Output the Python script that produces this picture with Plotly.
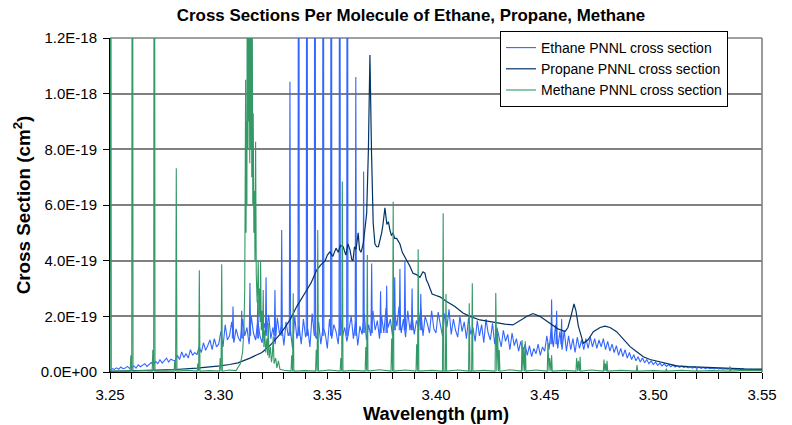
import numpy as np
import plotly.graph_objects as go

UNIT = 1e-19  # values below are in units of 1e-19 cm^2

# ---------------- Ethane ----------------
# dense background read on a regular wavelength grid 3.250 .. 3.550 (step 0.001, 301 samples)
ethane_grid_start = 3.25
ethane_grid_stop = 3.55
ethane_bg_cs = [
    0.06, 0.12, 0.09, 0.15, 0.1, 0.18, 0.12, 0.14, 0.2, 0.13,
    0.16, 0.22, 0.14, 0.26, 0.19, 0.24, 0.3, 0.2, 0.28, 0.34,
    0.25, 0.38, 0.3, 0.44, 0.32, 0.4, 0.5, 0.36, 0.46, 0.42,
    0.4, 0.6, 0.45, 0.72, 0.52, 0.66, 0.5, 0.8, 0.6, 0.7,
    0.62, 0.9, 0.7, 1.05, 0.78, 0.95, 1.15, 0.8, 1.2, 0.9,
    1.0, 1.45, 0.9, 1.7, 1.15, 1.3, 1.8, 1.05, 1.55, 1.25,
    1.1, 1.9, 1.3, 1.6, 1.0, 2.0, 1.4, 1.15, 1.85, 1.3,
    1.05, 1.75, 1.4, 2.05, 1.2, 1.6, 1.0, 1.95, 1.35, 1.7,
    0.95, 1.8, 1.3, 1.5, 0.85, 2.0, 1.2, 1.65, 1.0, 1.9,
    1.25, 1.55, 0.9, 2.1, 1.35, 1.2, 1.8, 1.0, 1.6, 1.4,
    0.85, 1.9, 1.2, 1.7, 1.45, 1.0, 2.05, 1.3, 1.6, 1.1,
    1.5, 2.0, 1.2, 1.8, 0.95, 1.65, 1.35, 2.1, 1.15, 1.7,
    1.3, 2.2, 1.5, 1.85, 1.2, 2.0, 1.4, 2.3, 1.6, 1.9,
    1.3, 2.1, 1.65, 2.35, 1.4, 1.9, 1.25, 2.2, 1.5, 2.0,
    1.35, 1.85, 1.6, 2.3, 1.3, 2.0, 1.75, 1.4, 2.2, 1.55,
    1.4, 2.15, 1.7, 1.3, 2.1, 1.6, 2.25, 1.35, 1.9, 1.5,
    1.25, 2.0, 1.45, 1.8, 1.2, 1.95, 1.35, 1.6, 1.1, 1.85,
    1.3, 1.7, 1.05, 1.9, 1.4, 1.15, 1.75, 1.0, 1.6, 1.2,
    0.9, 1.5, 1.1, 1.35, 0.8, 1.4, 0.95, 1.2, 0.75, 1.1,
    0.7, 1.0, 0.6, 0.95, 0.55, 0.85, 0.65, 1.0, 0.6, 0.9,
    0.75, 1.3, 0.8, 1.55, 0.9, 1.7, 0.85, 1.45, 0.8, 1.5,
    0.75, 1.3, 0.8, 1.2, 0.7, 1.25, 0.85, 1.15, 0.8, 1.2,
    0.85, 1.25, 0.9, 1.2, 0.85, 1.15, 0.9, 1.2, 0.8, 1.1,
    0.75, 1.0, 0.7, 0.95, 0.6, 0.85, 0.55, 0.8, 0.5, 0.7,
    0.45, 0.62, 0.4, 0.55, 0.36, 0.5, 0.33, 0.45, 0.3, 0.4,
    0.27, 0.36, 0.24, 0.32, 0.22, 0.3, 0.2, 0.27, 0.19, 0.25,
    0.18, 0.23, 0.17, 0.21, 0.16, 0.2, 0.15, 0.19, 0.14, 0.18,
    0.13, 0.17, 0.13, 0.16, 0.12, 0.15, 0.12, 0.14, 0.11, 0.14,
    0.11, 0.13, 0.1, 0.12, 0.1, 0.12, 0.09, 0.11, 0.09, 0.11,
    0.09, 0.1, 0.08, 0.1, 0.08, 0.1, 0.08, 0.09, 0.08, 0.09,
    0.08,
]
# sharp ethane lines: position, peak value, value at the foot
ethane_peak_wl = [3.3066, 3.3106, 3.3144, 3.3180, 3.3218, 3.3259, 3.3290, 3.3328,
                  3.3368, 3.3406, 3.3443, 3.3481, 3.3518, 3.3557, 3.3592, 3.3631,
                  3.3667, 3.3704, 3.3745, 3.3773, 3.3810, 3.3834, 3.3857, 3.3890,
                  3.3930, 3.4532, 3.4555, 3.4578]
ethane_peak_cs = [2.35, 2.2, 3.2, 2.6, 3.4, 2.95, 5.1, 10.43,
                  30, 30, 30, 30, 30, 30, 30, 10.6,
                  7.2, 3.9, 2.9, 3.1, 3.4, 3.7, 4.0, 3.0,
                  2.8, 2.6, 2.2, 1.9]
ethane_peak_foot = [1.2, 1.2, 1.3, 1.2, 1.3, 1.3, 1.3, 1.3,
                    1.3, 1.3, 1.3, 1.3, 1.3, 1.3, 1.3, 1.3,
                    1.4, 1.4, 1.4, 1.4, 1.5, 1.5, 1.5, 1.5,
                    1.5, 1.0, 1.0, 1.0]

# ---------------- Propane ----------------
propane_wl = [3.250, 3.260, 3.270, 3.280, 3.290, 3.297, 3.3006, 3.305, 3.3089, 3.3144,
              3.3199, 3.3236, 3.3282, 3.3305, 3.3330, 3.3359, 3.3380, 3.3402, 3.3425, 3.3451,
              3.3470, 3.3490, 3.3500, 3.3512, 3.3525, 3.3540, 3.3550, 3.3560, 3.3573, 3.3585,
              3.3595, 3.3604, 3.3612, 3.3618, 3.3625, 3.3632, 3.3642, 3.3648, 3.3655, 3.3665,
              3.3674, 3.3681, 3.3689, 3.3696, 3.3703, 3.3711, 3.3719, 3.3727, 3.3735, 3.3742,
              3.3750, 3.3756, 3.3765, 3.3774, 3.3781, 3.3788, 3.3795, 3.3802, 3.3810, 3.3819,
              3.3834, 3.3845, 3.3857, 3.3868, 3.3880, 3.3894, 3.3910, 3.3926, 3.3940, 3.3949,
              3.3956, 3.3963, 3.3982, 3.4000, 3.4018, 3.4049, 3.4087, 3.4124, 3.4156, 3.4202,
              3.4248, 3.4279, 3.4317, 3.4354, 3.4386, 3.4419, 3.4446, 3.4478, 3.4524, 3.4561,
              3.4594, 3.4607, 3.4621, 3.4635, 3.4644, 3.4655, 3.4678, 3.4699, 3.4724, 3.4755,
              3.4777, 3.4801, 3.4831, 3.4860, 3.4893, 3.4925, 3.4954, 3.4985, 3.5031, 3.5070,
              3.5108, 3.5160, 3.5215, 3.5280, 3.5338, 3.5420, 3.5500]
propane_cs = [0.02, 0.04, 0.06, 0.09, 0.14, 0.18, 0.22, 0.27, 0.33, 0.5,
              0.7, 0.95, 1.35, 1.6, 1.9, 2.35, 2.6, 2.9, 3.2, 3.66,
              3.85, 4.0, 4.2, 4.32, 4.15, 4.45, 4.3, 4.55, 4.5, 4.2,
              4.6, 4.4, 4.05, 4.0, 4.5, 4.4, 5.0, 4.4, 4.3, 4.6,
              5.2, 5.7, 8.0, 11.39, 8.0, 5.35, 4.6, 4.5, 4.5, 4.7,
              5.0, 5.3, 5.9, 5.3, 5.4, 5.1, 4.9, 5.0, 4.8, 4.8,
              4.6, 4.3, 4.14, 3.95, 3.8, 3.55, 3.5, 3.4, 3.6, 3.55,
              3.3, 3.2, 2.8, 2.75, 2.7, 2.53, 2.35, 2.12, 2.0, 1.87,
              1.8, 1.76, 1.72, 1.69, 1.85, 2.0, 2.1, 2.0, 1.75, 1.55,
              1.45, 1.6, 2.0, 2.45, 2.2, 1.65, 1.03, 1.15, 1.45, 1.6,
              1.65, 1.6, 1.45, 1.2, 0.91, 0.72, 0.55, 0.45, 0.37, 0.28,
              0.22, 0.19, 0.17, 0.15, 0.13, 0.11, 0.1]

# ---------------- Methane ----------------
# baseline and the dense Q-branch cluster
methane_line_wl = [3.2555, 3.2650, 3.2755, 3.2855, 3.2960, 3.3050,
                   3.3080, 3.3100, 3.3110, 3.3116, 3.3120, 3.3124, 3.3126, 3.3128, 3.3130, 3.3133,
                   3.3135, 3.3137, 3.3139, 3.3141, 3.3143, 3.3146, 3.3148, 3.3150, 3.3152, 3.3155,
                   3.3157, 3.3159, 3.3162, 3.3165, 3.3167, 3.3170, 3.3173, 3.3177, 3.3180, 3.3182,
                   3.3185, 3.3188, 3.3191, 3.3193, 3.3196, 3.3200, 3.3202, 3.3205, 3.3208, 3.3212,
                   3.3216, 3.3222, 3.3225, 3.3228, 3.3232, 3.3238, 3.3243, 3.3247, 3.3251, 3.3255,
                   3.3262, 3.3268, 3.3275, 3.3282, 3.3300,
                   3.3400, 3.3510, 3.3620, 3.3740, 3.3860, 3.3980, 3.4100, 3.4220, 3.4340,
                   3.4460, 3.4590, 3.4715, 3.4850, 3.5000, 3.5130, 3.5270, 3.5420, 3.5500]
methane_line_cs = [0.04, 0.05, 0.04, 0.06, 0.05, 0.07,
                   0.05, 0.3, 0.7, 1.5, 3.0, 10.5, 5.0, 9.0, 6.0, 30,
                   8.0, 30, 9.0, 11.8, 7.5, 30, 8.0, 30, 7.0, 12.0,
                   6.0, 9.3, 5.0, 6.5, 4.0, 8.27, 3.5, 2.5, 3.2, 4.0,
                   2.0, 3.0, 1.8, 4.0, 1.5, 2.2, 1.2, 2.95, 0.9, 1.5,
                   0.7, 1.2, 0.6, 1.76, 0.5, 0.9, 0.35, 0.6, 1.27, 0.3,
                   0.5, 0.15, 0.4, 0.1, 0.06,
                   0.05, 0.07, 0.06, 0.08, 0.07, 0.06, 0.07, 0.06, 0.08,
                   0.07, 0.06, 0.07, 0.06, 0.05, 0.06, 0.05, 0.06, 0.05]
# isolated methane lines (R and P branches)
methane_peak_wl = [3.2503, 3.2596, 3.2603, 3.2697, 3.2704, 3.2798, 3.2805, 3.2904, 3.2911,
                   3.3007, 3.3014, 3.3336, 3.3343, 3.3449, 3.3456, 3.3562, 3.3569, 3.3677,
                   3.3684, 3.3796, 3.3803, 3.3911, 3.3918, 3.4033, 3.4046, 3.4153, 3.4167,
                   3.4275, 3.4283, 3.4291, 3.4396, 3.4403, 3.4411, 3.4515, 3.4523, 3.4532,
                   3.4647, 3.4655, 3.4663, 3.4773, 3.4780, 3.4787, 3.4925, 3.5060, 3.5200,
                   3.5353]
methane_peak_cs = [30, 0.6, 30, 0.8, 30, 0.4, 7.32, 0.3, 3.66,
                   0.5, 3.87, 0.6, 2.83, 0.8, 5.1, 0.5, 6.84, 0.9,
                   4.2, 1.2, 6.12, 1.0, 4.41, 5.7, 2.8, 2.47, 3.19,
                   2.84, 1.5, 0.8, 1.15, 0.9, 1.1, 1.04, 0.5, 0.6,
                   0.5, 0.4, 0.55, 0.45, 0.3, 0.4, 0.25, 0.12, 0.1,
                   0.2]
methane_floor = 0.03

# ---------------- axes ----------------
x_tick_vals = [3.25, 3.30, 3.35, 3.40, 3.45, 3.50, 3.55]
x_tick_text = ["3.25", "3.30", "3.35", "3.40", "3.45", "3.50", "3.55"]
y_tick_vals = [0, 2e-19, 4e-19, 6e-19, 8e-19, 1.0e-18, 1.2e-18]
y_tick_text = ["0.0E+00", "2.0E-19", "4.0E-19", "6.0E-19", "8.0E-19", "1.0E-18", "1.2E-18"]

assert len(ethane_bg_cs) == 301
assert len(ethane_peak_wl) == len(ethane_peak_cs) == len(ethane_peak_foot)
assert len(propane_wl) == len(propane_cs)
assert len(methane_line_wl) == len(methane_line_cs)
assert len(methane_peak_wl) == len(methane_peak_cs)

ETH_C = "#3366FF"
PRO_C = "#003366"
MET_C = "#339966"
FONT = "Liberation Sans, Arial, sans-serif"

# build traces
ethane_wl = np.linspace(ethane_grid_start, ethane_grid_stop, len(ethane_bg_cs))
ethane_y = [v * UNIT for v in ethane_bg_cs]

HW = 0.0003
sx, sy = [], []
for w, c, f in zip(ethane_peak_wl, ethane_peak_cs, ethane_peak_foot):
    sx += [w - HW, w, w + HW, None]
    sy += [f * UNIT, c * UNIT, f * UNIT, None]

mpts = list(zip(methane_line_wl, methane_line_cs))
for w, c in zip(methane_peak_wl, methane_peak_cs):
    mpts += [(w - HW, methane_floor), (w, c), (w + HW, methane_floor)]
mpts.sort(key=lambda p: p[0])
mx = [p[0] for p in mpts]
my = [p[1] * UNIT for p in mpts]

fig = go.Figure()
fig.add_trace(go.Scatter(x=ethane_wl, y=ethane_y, mode="lines", name="Ethane PNNL cross section",
                         legendgroup="eth", line=dict(color=ETH_C, width=1.1)))
fig.add_trace(go.Scatter(x=sx, y=sy, mode="lines", showlegend=False, legendgroup="eth",
                         line=dict(color=ETH_C, width=1.1)))
fig.add_trace(go.Scatter(x=propane_wl, y=[v * UNIT for v in propane_cs], mode="lines",
                         name="Propane PNNL cross section", line=dict(color=PRO_C, width=1.2)))
fig.add_trace(go.Scatter(x=mx, y=my, mode="lines", name="Methane PNNL cross section",
                         line=dict(color=MET_C, width=1.1)))

L, R, T, B = 110, 30, 38, 53
W, H = 792, 425
pw, ph = W - L - R, H - T - B

fig.update_layout(
    template="none",
    width=W, height=H,
    margin=dict(l=L, r=R, t=T, b=B, pad=0),
    paper_bgcolor="white", plot_bgcolor="white",
    font=dict(family=FONT, size=15, color="black"),
    title=dict(text="Cross Sections Per Molecule of Ethane, Propane, Methane",
               x=411 / W, xanchor="center", y=1 - 15 / H, yanchor="middle",
               font=dict(family=FONT, size=16.9, color="black", weight="bold")),
    showlegend=True,
    legend=dict(x=(500 - L) / pw, y=1 + 7 / ph, xanchor="left", yanchor="top",
                bgcolor="white", bordercolor="black", borderwidth=1,
                font=dict(family=FONT, size=14, color="black"), tracegroupgap=0),
    xaxis=dict(range=[3.25, 3.55], tickmode="array", tickvals=x_tick_vals, ticktext=x_tick_text,
               ticks="outside", ticklen=6, tickcolor="black", tickwidth=1,
               showline=True, linecolor="black", linewidth=1, showgrid=False, zeroline=False,
               minor=dict(tickmode="linear", tick0=3.25, dtick=0.01, ticks="outside",
                          ticklen=6, tickcolor="black", showgrid=False),
               tickfont=dict(family=FONT, size=15), ticklabelstandoff=3, automargin=False,
               title=dict(text="Wavelength (µm)", standoff=2,
                          font=dict(family=FONT, size=18.3, weight="bold"))),
    yaxis=dict(range=[0, 1.2e-18], tickmode="array", tickvals=y_tick_vals, ticktext=y_tick_text,
               ticks="outside", ticklen=6, tickcolor="black", tickwidth=1,
               showline=True, linecolor="black", linewidth=1,
               showgrid=True, gridcolor="#808080", gridwidth=1.6, zeroline=False,
               tickfont=dict(family=FONT, size=15), ticklabelstandoff=3, automargin=False,
               title=dict(text="Cross Section (cm<sup>2</sup>)", standoff=5,
                          font=dict(family=FONT, size=18.8, weight="bold"))),
    shapes=[
        dict(type="line", xref="paper", yref="paper", x0=0, x1=1, y0=1, y1=1,
             line=dict(color="#808080", width=1.6), layer="below"),
        dict(type="line", xref="paper", yref="paper", x0=1, x1=1, y0=0, y1=1,
             line=dict(color="#808080", width=1.6), layer="below"),
    ],
)

fig.write_html("out.html", config={"displayModeBar": False},
               post_script="document.body.style.margin='0px';")
